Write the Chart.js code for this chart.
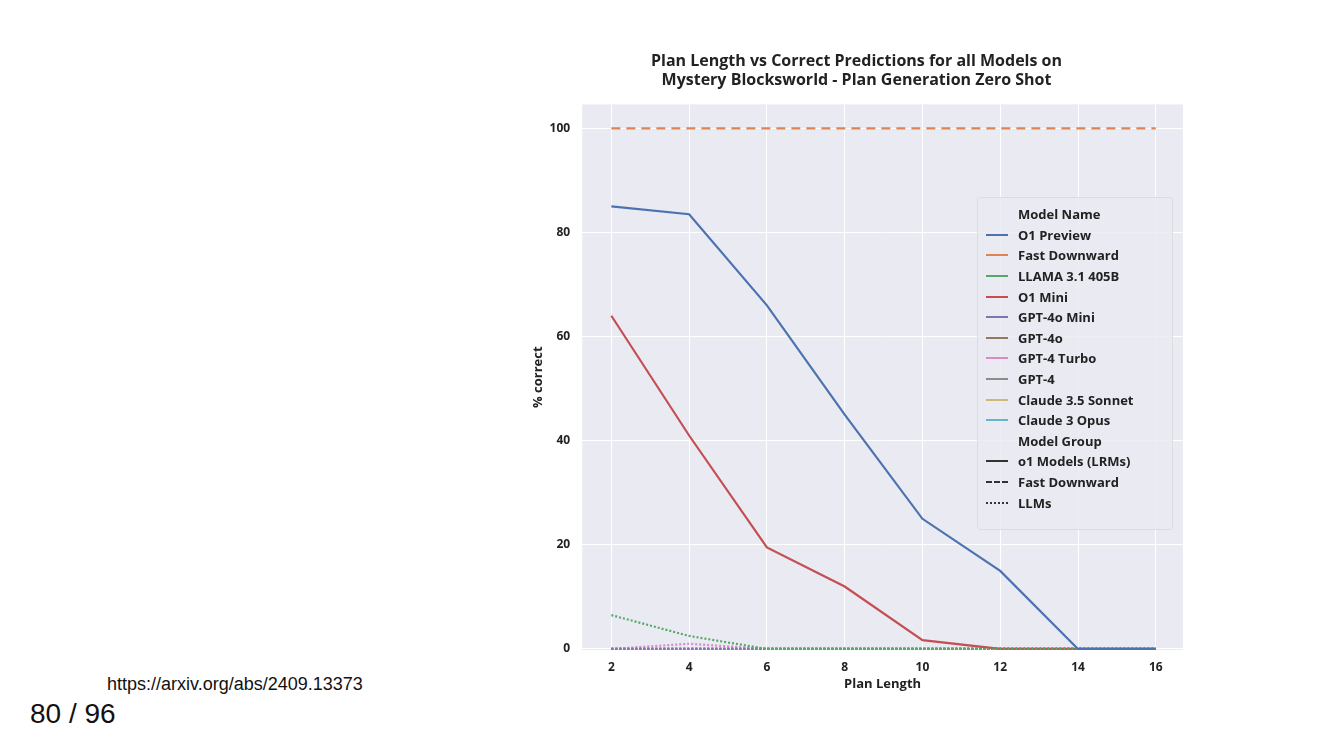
<!DOCTYPE html>
<html><head><meta charset="utf-8">
<script src="https://cdn.jsdelivr.net/npm/chart.js@4"></script>
<style>
body{margin:0;width:1334px;height:750px;background:#fff;position:relative;overflow:hidden;font-family:"Open Sans",sans-serif}
#wrap{position:absolute;left:530px;top:40px;width:660px;height:652px}
#src{position:absolute;left:107px;top:674px;font:18px "Liberation Sans",sans-serif;color:#111}
#page{position:absolute;left:30px;top:698px;font:28px "Liberation Sans",sans-serif;color:#111}
#legend{position:absolute;left:977px;top:197px;width:196px;height:333px;border:1px solid #ddd;background:rgba(234,234,242,0.85);border-radius:3px;font-size:13px;font-weight:700;color:#222;box-sizing:border-box;padding:6px 0 0 8px}
#legend div{height:20.6px;display:flex;align-items:center}
#legend span.l{display:inline-block;width:22px;margin-right:10px;border-top:2px solid}
</style></head><body>
<div id="wrap"><canvas id="c"></canvas></div>
<div id="legend"></div>
<div id="src">https://arxiv.org/abs/2409.13373</div>
<div id="page">80 / 96</div>
<script>
const planLength = [2, 4, 6, 8, 10, 12, 14, 16];
const o1Preview = [85, 83.5, 66, 45, 25, 15, 0, 0];
const fastDownward = [100, 100, 100, 100, 100, 100, 100, 100];
const llama = [6.5, 2.5, 0, 0, 0, 0, 0, 0];
const o1Mini = [64, 41, 19.5, 12, 1.7, 0, 0, 0];
const gpt4oMini = [0, 0, 0, 0, 0, 0, 0, 0];
const gpt4o = [0, 0, 0, 0, 0, 0, 0, 0];
const gpt4Turbo = [0, 1, 0, 0, 0, 0, 0, 0];
const gpt4 = [0, 0, 0, 0, 0, 0, 0, 0];
const claude35 = [0, 0, 0, 0, 0, 0, 0, 0];
const claude3 = [0, 0, 0, 0, 0, 0, 0, 0];
const yTicks = [0, 20, 40, 60, 80, 100];

const series = [
  ['O1 Preview', o1Preview, '#4c72b0', []],
  ['Fast Downward', fastDownward, '#dd8452', [9, 6]],
  ['LLAMA 3.1 405B', llama, '#55a868', [2, 2]],
  ['O1 Mini', o1Mini, '#c44e52', []],
  ['GPT-4o Mini', gpt4oMini, '#8172b3', [2, 2]],
  ['GPT-4o', gpt4o, '#937860', [2, 2]],
  ['GPT-4 Turbo', gpt4Turbo, '#da8bc3', [2, 2]],
  ['GPT-4', gpt4, '#8c8c8c', [2, 2]],
  ['Claude 3.5 Sonnet', claude35, '#ccb974', [2, 2]],
  ['Claude 3 Opus', claude3, '#64b5cd', [2, 2]]
];

const bg = {id: 'bg', beforeDraw(ch) {
  const a = ch.chartArea, c = ch.ctx;
  c.save(); c.fillStyle = '#eaeaf2'; c.fillRect(a.left, a.top, a.width, a.height); c.restore();
}};

const font = {family: 'Open Sans', weight: '700', size: 12};
new Chart(document.getElementById('c'), {
  type: 'line',
  data: {datasets: series.map(s => ({
    label: s[0], data: planLength.map((x, i) => ({x, y: s[1][i]})),
    borderColor: s[2], borderDash: s[3], borderWidth: 2.2, pointRadius: 0, tension: 0
  }))},
  options: {
    responsive: true, maintainAspectRatio: false, animation: false,
    layout: {padding: {right: 7, bottom: 0}},
    plugins: {
      legend: {display: false}, tooltip: {enabled: false},
      title: {display: true, text: ['Plan Length vs Correct Predictions for all Models on', 'Mystery Blocksworld - Plan Generation Zero Shot'],
        color: '#222', font: {family: 'Open Sans', weight: '700', size: 16}, padding: {top: 12, bottom: 14}, lineHeight: 1.45}
    },
    scales: {
      x: {type: 'linear', min: 1.25, max: 16.7, afterBuildTicks: ax => { ax.ticks = planLength.map(v => ({value: v})); },
        grid: {color: '#fff', lineWidth: 1}, border: {display: false},
        ticks: {color: '#222', font, padding: 2},
        title: {display: true, text: 'Plan Length', color: '#222', font: {family: 'Open Sans', weight: '700', size: 13}, padding: 0}},
      y: {min: -0.2, max: 104.6, afterBuildTicks: ax => { ax.ticks = yTicks.map(v => ({value: v})); },
        grid: {color: '#fff', lineWidth: 1}, border: {display: false},
        ticks: {color: '#222', font, padding: 4},
        title: {display: true, text: '% correct', color: '#222', font: {family: 'Open Sans', weight: '700', size: 13}, padding: 0}}
    }
  },
  plugins: [bg]
});

const lg = document.getElementById('legend');
const row = (html) => { const d = document.createElement('div'); d.innerHTML = html; lg.appendChild(d); };
row('<span style="width:32px;display:inline-block"></span>Model Name');
series.forEach(s => row('<span class="l" style="border-color:' + s[2] + '"></span>' + s[0]));
row('<span style="width:32px;display:inline-block"></span>Model Group');
row('<span class="l" style="border-color:#333"></span>o1 Models (LRMs)');
row('<span class="l" style="border-color:#333;border-top-style:dashed"></span>Fast Downward');
row('<span class="l" style="border-color:#333;border-top-style:dotted"></span>LLMs');
</script>
</body></html>
